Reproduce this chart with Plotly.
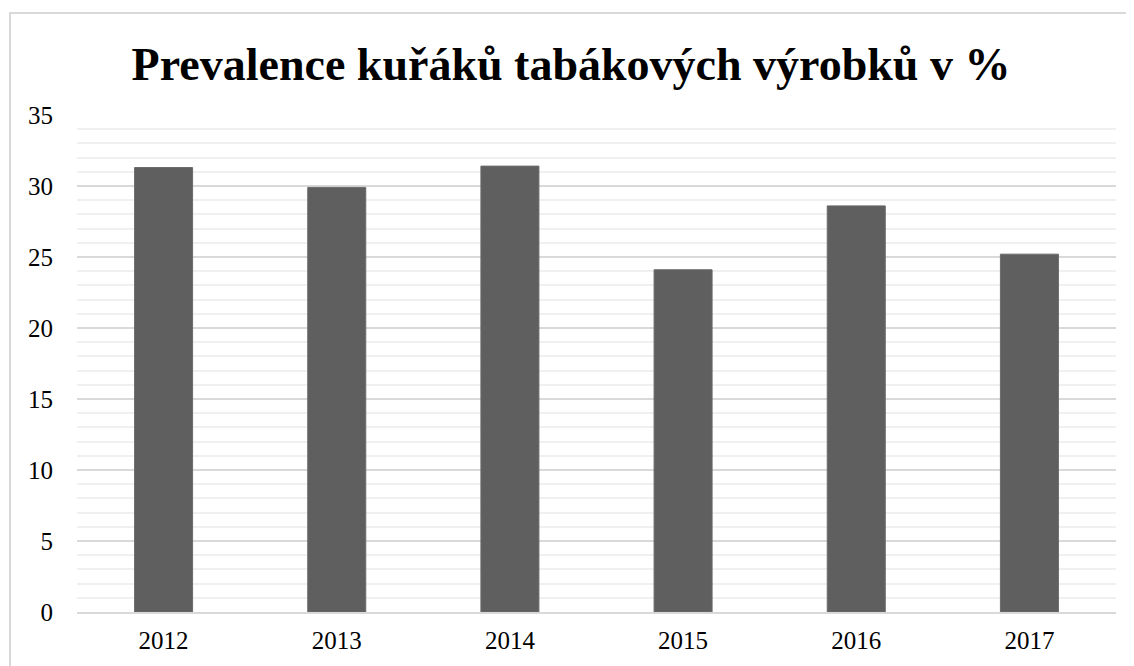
import plotly.graph_objects as go

years = ["2012", "2013", "2014", "2015", "2016", "2017"]
prevalence = [31.3, 29.9, 31.4, 24.1, 28.6, 25.2]
title_text = "Prevalence kuřáků tabákových výrobků v %"

# page body has an 8px margin; figure positions are offset accordingly
W, H = 1126, 658
L, R, T, B = 69, 18, 107, 54
pw, ph = W - L - R, H - T - B

def px(x):
    return (x - L) / pw

def py(y):
    return (H - B - y) / ph

fig = go.Figure(go.Bar(
    x=years, y=prevalence,
    marker=dict(color="#5f5f5f", line=dict(color="#6a6a6a", width=1)),
    width=0.335,
))

fig.update_layout(
    width=W, height=H,
    margin=dict(l=L, r=R, t=T, b=B),
    paper_bgcolor="white", plot_bgcolor="white",
    showlegend=False,
    title=dict(text="<b>" + title_text + "</b>", x=0.5, xanchor="center",
               y=1 - 56 / H, yanchor="middle",
               font=dict(family="Liberation Serif", size=46, color="black")),
    font=dict(family="Liberation Serif", size=25, color="black"),
    xaxis=dict(showgrid=False, showline=True, linecolor="#d9d9d9", linewidth=2,
               ticks="", ticklabelstandoff=5, tickfont=dict(size=25)),
    yaxis=dict(range=[0, 35], dtick=5, tick0=0, showgrid=True, gridcolor="#d9d9d9",
               gridwidth=2, zeroline=False, showline=False, ticks="",
               ticklabelstandoff=23, tickfont=dict(size=25),
               minor=dict(dtick=1, showgrid=True, gridcolor="#f0f0f0", gridwidth=1.5)),
    shapes=[dict(type="rect", xref="paper", yref="paper",
                 x0=px(2), x1=px(1130), y0=py(680), y1=py(5),
                 line=dict(color="#d9d9d9", width=2), fillcolor="rgba(0,0,0,0)", layer="below")],
)

fig.write_html("out.html")
